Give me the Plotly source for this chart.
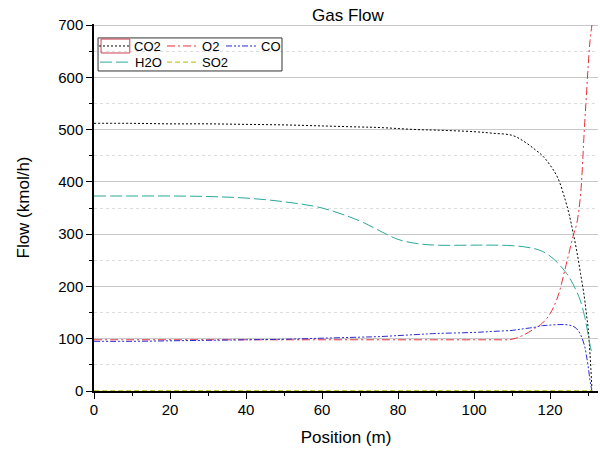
import plotly.graph_objects as go

position = [0, 10, 20, 30, 40, 50, 60, 70, 75, 80, 85, 90, 100, 105, 110, 113, 116, 118,
            120, 122, 124, 125, 126, 127, 128, 129, 129.5, 130, 130.5, 131]
co2 = [512, 512, 511, 511, 510, 509, 507, 505, 504, 502, 500, 499, 496, 493, 489, 478, 462, 450,
       432, 408, 365, 338, 305, 268, 225, 180, 150, 120, 70, 5]
o2 = [98, 98, 98, 98, 98, 98, 98, 98, 98, 98, 98, 98, 98, 98, 99, 107, 120, 130,
      148, 180, 235, 265, 295, 320, 375, 500, 560, 620, 670, 700]
co = [95, 95, 96, 97, 98, 99, 101, 103, 104, 106, 108, 110, 112, 114, 116, 119, 122, 125,
      126, 127, 127, 126, 124, 119, 108, 88, 70, 48, 20, 0]
h2o = [373, 373, 373, 372, 369, 362, 350, 325, 307, 290, 282, 279, 279, 279, 278, 276, 272, 267,
       258, 245, 228, 218, 205, 190, 172, 145, 128, 108, 88, 72]
so2 = [0.5] * len(position)

# name, values, colour, dash, legend id, legend x (paper), legend y (paper)
series = [
    ("CO2", co2, "#000000", "2px,2px", "legend", 0.0, 0.940),
    ("O2", o2, "#e8303a", "8px,3px,2px,3px", "legend2", 0.135, 0.940),
    ("CO", co, "#2a2ad8", "6px,2px,2px,2px,2px,2px", "legend3", 0.252, 0.940),
    ("H2O", h2o, "#2aa89a", "12px,4px", "legend4", 0.002, 0.896),
    ("SO2", so2, "#b8b800", "5px,3px", "legend5", 0.135, 0.896),
]

font = "Liberation Sans, Arial, sans-serif"
fig = go.Figure()
legends = {}
for name, vals, color, dash, lg, lx, ly in series:
    fig.add_trace(go.Scatter(x=position, y=vals, name=name, mode="lines", line_shape="spline",
                             line=dict(color=color, width=1, dash=dash), legend=lg))
    legends[lg] = dict(orientation="h", x=lx, y=ly, xanchor="left", yanchor="middle",
                       bgcolor="rgba(0,0,0,0)", font=dict(size=13), itemwidth=30)

fig.update_layout(
    width=600, height=450,
    margin=dict(l=94, r=2, t=24, b=59, autoexpand=False),
    plot_bgcolor="white", paper_bgcolor="white",
    font=dict(family=font, size=13, color="black"),
    showlegend=True,
    **legends,
    xaxis=dict(range=[0, 132.6], tick0=0, dtick=20, ticks="outside", ticklen=6, tickcolor="black",
               showline=True, linecolor="black", linewidth=1.5, showgrid=False, zeroline=False,
               automargin=False, ticklabelstandoff=-2,
               minor=dict(dtick=10, ticks="outside", ticklen=3, tickcolor="black", showgrid=False),
               title=dict(text="Position (m)", font=dict(size=17), standoff=14),
               tickfont=dict(size=15)),
    yaxis=dict(range=[0, 702], tick0=0, dtick=100, ticks="outside", ticklen=6, tickcolor="black",
               showline=True, linecolor="black", linewidth=1.5, showgrid=True, gridcolor="#c8c8c8",
               gridwidth=1, zeroline=False, automargin=False,
               minor=dict(dtick=50, ticks="outside", ticklen=3, tickcolor="black", showgrid=True,
                          gridcolor="#dcdcdc", griddash="dot"),
               title=dict(text="Flow (kmol/h)", font=dict(size=17), standoff=24),
               tickfont=dict(size=15)),
    shapes=[
        dict(type="rect", xref="paper", yref="paper", x0=0.008, x1=0.373, y0=0.872, y1=0.962,
             line=dict(color="#333333", width=1), fillcolor="rgba(0,0,0,0)"),
        dict(type="rect", xref="paper", yref="paper", x0=0.014, x1=0.071, y0=0.921, y1=0.959,
             line=dict(color="#d04050", width=1), fillcolor="rgba(0,0,0,0)"),
    ],
    annotations=[dict(text="Gas Flow", xref="paper", yref="paper", x=0.504, y=1.0,
                      xanchor="center", yanchor="bottom", showarrow=False, yshift=-3,
                      font=dict(size=17))],
)

fig.write_html("out.html", config={"displayModeBar": False},
               post_script="document.body.style.margin='0';document.body.style.padding='0';")
